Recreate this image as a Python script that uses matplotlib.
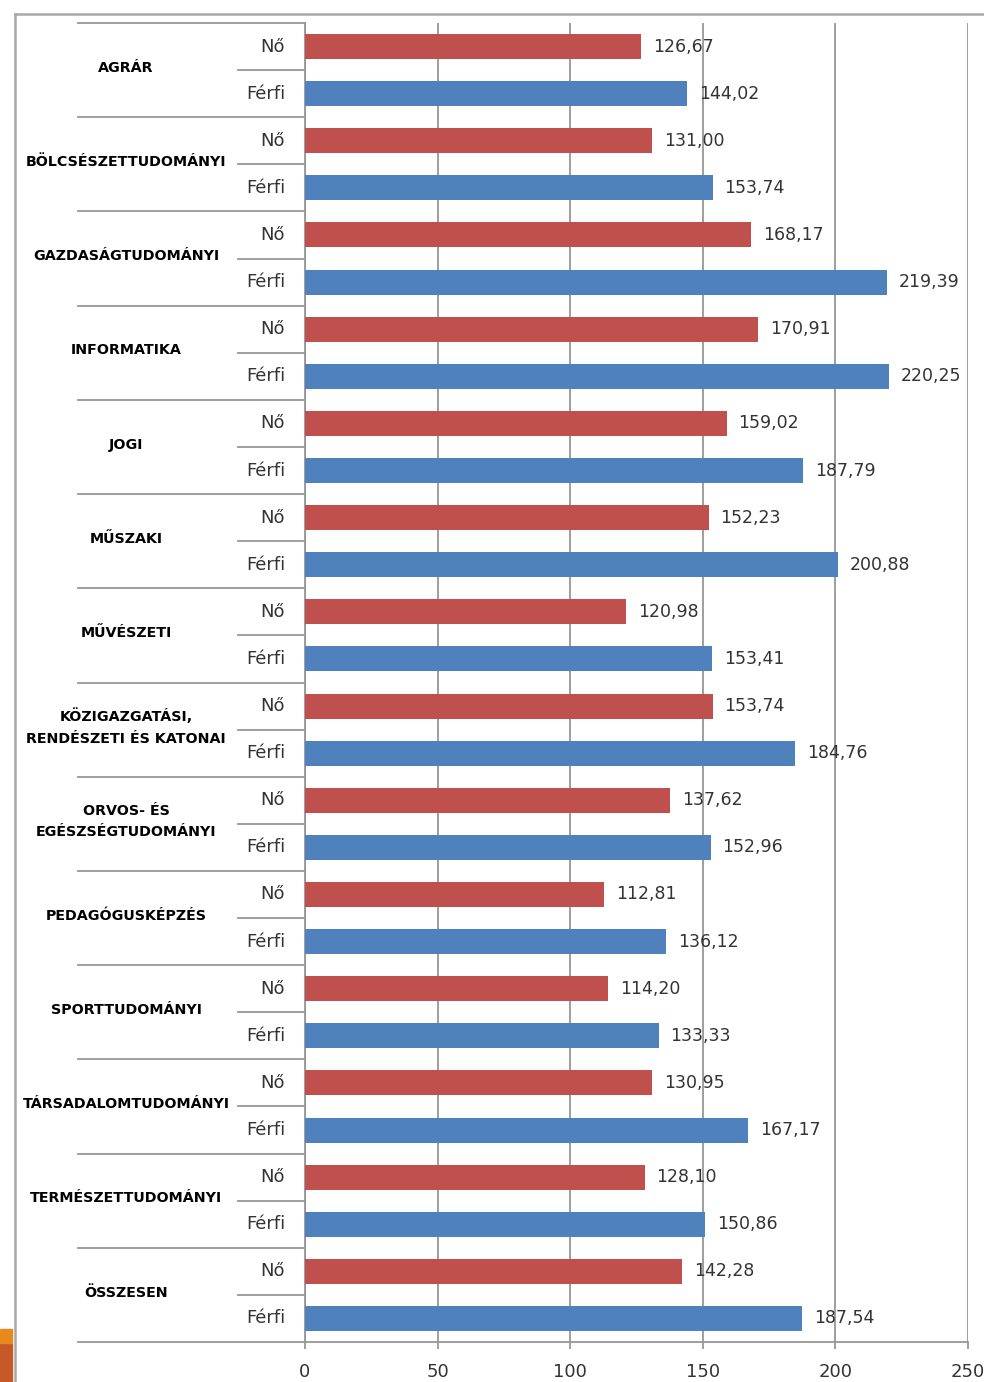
import matplotlib
matplotlib.use("Agg")
import matplotlib.pyplot as plt
import matplotlib.transforms as mtransforms
from matplotlib.lines import Line2D
from matplotlib.patches import Rectangle

# Data
categories = [
    "AGRÁR",
    "BÖLCSÉSZETTUDOMÁNYI",
    "GAZDASÁGTUDOMÁNYI",
    "INFORMATIKA",
    "JOGI",
    "MŰSZAKI",
    "MŰVÉSZETI",
    "KÖZIGAZGATÁSI,\nRENDÉSZETI ÉS KATONAI",
    "ORVOS- ÉS\nEGÉSZSÉGTUDOMÁNYI",
    "PEDAGÓGUSKÉPZÉS",
    "SPORTTUDOMÁNYI",
    "TÁRSADALOMTUDOMÁNYI",
    "TERMÉSZETTUDOMÁNYI",
    "ÖSSZESEN",
]
sub_labels = ["Nő", "Férfi"]
no_values = [126.67, 131.00, 168.17, 170.91, 159.02, 152.23, 120.98,
             153.74, 137.62, 112.81, 114.20, 130.95, 128.10, 142.28]
ferfi_values = [144.02, 153.74, 219.39, 220.25, 187.79, 200.88, 153.41,
                184.76, 152.96, 136.12, 133.33, 167.17, 150.86, 187.54]
x_ticks = [0, 50, 100, 150, 200, 250]

RED = "#C0504D"
BLUE = "#4F81BD"
GRID = "#969696"
TEXT = "#333333"

W, H = 984, 1382
fig = plt.figure(figsize=(W / 100, H / 100), dpi=100)
fig.patch.set_facecolor("white")

# axes placed in pixel terms: x 305..968, y 23..1342
ax = fig.add_axes([305 / W, 1 - 1342 / H, (968 - 305) / W, (1342 - 23) / H])

n = len(categories)
no_pos = [2 * i for i in range(n)]
ferfi_pos = [2 * i + 1 for i in range(n)]

ax.barh(no_pos, no_values, height=0.53, color=RED, zorder=3)
ax.barh(ferfi_pos, ferfi_values, height=0.53, color=BLUE, zorder=3)

for y, v in zip(no_pos + ferfi_pos, no_values + ferfi_values):
    ax.annotate(f"{v:.2f}".replace(".", ","), xy=(v, y), xytext=(8.5, 0),
                textcoords="offset points", ha="left", va="center",
                fontsize=12.5, color=TEXT, zorder=4)

ax.set_xlim(0, 250)
ax.set_ylim(2 * n - 0.5, -0.5)
ax.set_xticks(x_ticks)
ax.set_xticklabels([str(t) for t in x_ticks], fontsize=13, color=TEXT)
ax.set_yticks([])
ax.xaxis.grid(True, color=GRID, linewidth=1.3, zorder=0)
ax.tick_params(axis="x", length=5, width=1.3, color=GRID, pad=10)
for side in ["top", "right"]:
    ax.spines[side].set_visible(False)
for side in ["left", "bottom"]:
    ax.spines[side].set_color(GRID)
    ax.spines[side].set_linewidth(1.3)

# left-hand two-level category axis
trans = mtransforms.blended_transform_factory(ax.transAxes, ax.transData)
ax_w = 968 - 305
def px(x):
    return (x - 305) / ax_w

for i, cat in enumerate(categories):
    top = 2 * i - 0.5
    ax.add_line(Line2D([px(78), 0], [top, top], transform=trans,
                       color=GRID, linewidth=1.3, clip_on=False))
    ax.add_line(Line2D([px(238), 0], [top + 1, top + 1], transform=trans,
                       color=GRID, linewidth=1.3, clip_on=False))
    ax.text(px(126), 2 * i + 0.45, cat, transform=trans, ha="center",
            va="center", fontsize=10.3, fontweight="bold", color="black",
            linespacing=1.7)
    for j, lab in enumerate(sub_labels):
        ax.text(px(285), 2 * i + j, lab, transform=trans, ha="right",
                va="center", fontsize=13, color=TEXT)
ax.add_line(Line2D([px(78), 0], [2 * n - 0.5, 2 * n - 0.5], transform=trans,
                   color=GRID, linewidth=1.3, clip_on=False))

# outer frame of the slide picture
fig.add_artist(Line2D([15 / W, 1], [1 - 14 / H, 1 - 14 / H],
                      transform=fig.transFigure, color="#A8A8A8", linewidth=1.8))
fig.add_artist(Line2D([15 / W, 15 / W], [0, 1 - 14 / H],
                      transform=fig.transFigure, color="#A8A8A8", linewidth=1.8))

# orange marker in the bottom-left corner
fig.add_artist(Rectangle((0, 0), 12 / W, (1382 - 1343) / H,
                         transform=fig.transFigure, color="#C55A28"))
fig.add_artist(Rectangle((0, (1382 - 1343) / H), 12 / W, 14 / H,
                         transform=fig.transFigure, color="#E8891C"))

fig.savefig("out.png", dpi=100)
